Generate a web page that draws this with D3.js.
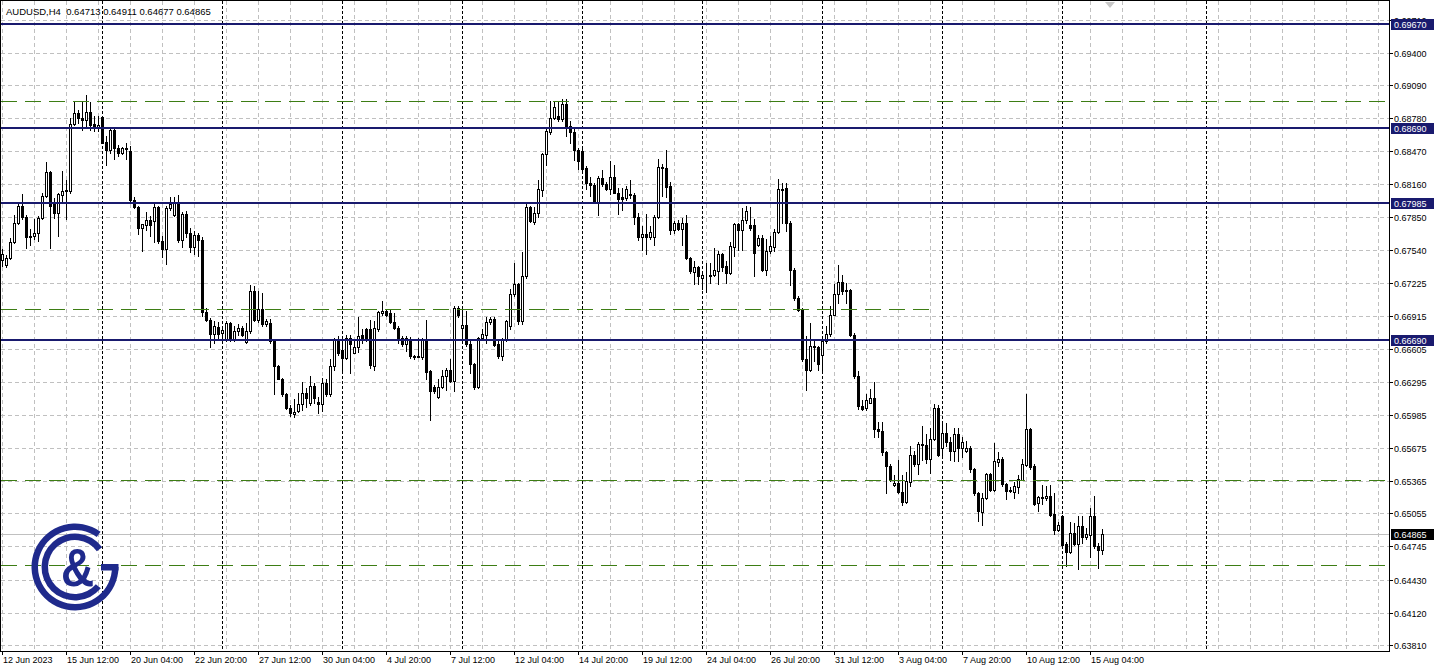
<!DOCTYPE html>
<html><head><meta charset="utf-8">
<script src="https://cdn.jsdelivr.net/npm/d3@7"></script>
<style>
body{margin:0;background:#fff}
svg{display:block}
text{font-family:"Liberation Sans",Arial,sans-serif}
</style>
</head><body>
<svg id="c" width="1436" height="670"></svg>
<script>
// ---------------- data ----------------
const symbol = "AUDUSD,H4";
const firstBarTime = "2023-06-12T20:00:00Z";
// [open, high, low, close] per H4 bar
const ohlc = [
[0.6744,0.6755,0.6739,0.6750],[0.6740,0.6749,0.6738,0.6746],[0.6746,0.6765,0.6745,0.6761],[0.6761,0.6787,0.6760,0.6779],
[0.6779,0.6798,0.6778,0.6795],[0.6795,0.6807,0.6783,0.6785],[0.6785,0.6787,0.6756,0.6766],[0.6767,0.6774,0.6759,0.6766],
[0.6767,0.6783,0.6764,0.6770],[0.6770,0.6786,0.6762,0.6784],[0.6784,0.6808,0.6783,0.6805],[0.6805,0.6837,0.6804,0.6827],
[0.6827,0.6828,0.6756,0.6795],[0.6799,0.6803,0.6784,0.6789],[0.6789,0.6808,0.6767,0.6807],[0.6806,0.6828,0.6798,0.6809],
[0.6809,0.6820,0.6783,0.6810],[0.6809,0.6878,0.6808,0.6873],[0.6873,0.6893,0.6872,0.6883],[0.6883,0.6886,0.6874,0.6878],
[0.6878,0.6893,0.6867,0.6876],[0.6876,0.6900,0.6869,0.6884],[0.6884,0.6893,0.6867,0.6872],[0.6873,0.6880,0.6866,0.6869],
[0.6870,0.6880,0.6866,0.6872],[0.6879,0.6880,0.6855,0.6855],[0.6856,0.6861,0.6834,0.6848],[0.6848,0.6870,0.6845,0.6867],
[0.6867,0.6869,0.6840,0.6850],[0.6850,0.6853,0.6842,0.6845],[0.6845,0.6851,0.6844,0.6850],[0.6850,0.6855,0.6840,0.6849],
[0.6847,0.6852,0.6800,0.6801],[0.6801,0.6804,0.6793,0.6794],[0.6794,0.6795,0.6769,0.6775],[0.6775,0.6778,0.6753,0.6778],
[0.6777,0.6790,0.6773,0.6782],[0.6782,0.6786,0.6767,0.6777],[0.6781,0.6798,0.6761,0.6794],[0.6794,0.6795,0.6760,0.6762],
[0.6762,0.6767,0.6747,0.6755],[0.6755,0.6795,0.6741,0.6793],[0.6793,0.6804,0.6792,0.6797],[0.6787,0.6804,0.6786,0.6799],
[0.6799,0.6806,0.6761,0.6763],[0.6763,0.6790,0.6757,0.6788],[0.6788,0.6791,0.6766,0.6770],[0.6770,0.6775,0.6752,0.6757],
[0.6757,0.6772,0.6750,0.6768],[0.6768,0.6770,0.6748,0.6763],[0.6763,0.6766,0.6692,0.6695],[0.6695,0.6699,0.6687,0.6688],
[0.6688,0.6690,0.6662,0.6675],[0.6675,0.6687,0.6666,0.6682],[0.6681,0.6686,0.6669,0.6675],[0.6676,0.6682,0.6671,0.6678],
[0.6670,0.6687,0.6668,0.6685],[0.6685,0.6686,0.6668,0.6670],[0.6670,0.6682,0.6668,0.6677],[0.6677,0.6684,0.6674,0.6680],
[0.6680,0.6682,0.6673,0.6674],[0.6667,0.6685,0.6666,0.6677],[0.6677,0.6721,0.6676,0.6715],[0.6715,0.6720,0.6687,0.6688],
[0.6688,0.6715,0.6686,0.6698],[0.6698,0.6713,0.6682,0.6684],[0.6684,0.6689,0.6682,0.6687],[0.6685,0.6689,0.6666,0.6668],
[0.6668,0.6669,0.6618,0.6644],[0.6644,0.6645,0.6632,0.6632],[0.6632,0.6633,0.6616,0.6618],[0.6618,0.6619,0.6604,0.6605],
[0.6605,0.6608,0.6597,0.6600],[0.6599,0.6613,0.6596,0.6601],[0.6602,0.6619,0.6601,0.6609],[0.6609,0.6629,0.6603,0.6619],
[0.6619,0.6624,0.6606,0.6614],[0.6610,0.6635,0.6608,0.6626],[0.6626,0.6628,0.6610,0.6614],[0.6611,0.6615,0.6600,0.6609],
[0.6609,0.6633,0.6602,0.6628],[0.6628,0.6632,0.6616,0.6618],[0.6618,0.6651,0.6616,0.6644],[0.6644,0.6671,0.6641,0.6669],
[0.6669,0.6673,0.6655,0.6657],[0.6660,0.6669,0.6638,0.6652],[0.6652,0.6674,0.6651,0.6671],[0.6671,0.6674,0.6638,0.6665],
[0.6657,0.6669,0.6657,0.6662],[0.6662,0.6691,0.6658,0.6673],[0.6674,0.6679,0.6666,0.6671],[0.6679,0.6680,0.6668,0.6669],
[0.6679,0.6688,0.6643,0.6645],[0.6644,0.6687,0.6641,0.6680],[0.6679,0.6696,0.6677,0.6695],[0.6694,0.6706,0.6693,0.6696],
[0.6696,0.6698,0.6692,0.6693],[0.6694,0.6697,0.6685,0.6686],[0.6686,0.6694,0.6679,0.6680],[0.6680,0.6682,0.6666,0.6671],
[0.6671,0.6673,0.6663,0.6665],[0.6665,0.6673,0.6659,0.6671],[0.6670,0.6672,0.6652,0.6654],[0.6654,0.6655,0.6651,0.6653],
[0.6654,0.6671,0.6653,0.6653],[0.6653,0.6671,0.6651,0.6670],[0.6670,0.6688,0.6632,0.6639],[0.6640,0.6641,0.6594,0.6621],
[0.6625,0.6627,0.6619,0.6621],[0.6615,0.6632,0.6614,0.6625],[0.6625,0.6641,0.6624,0.6635],[0.6635,0.6643,0.6622,0.6641],
[0.6641,0.6651,0.6629,0.6630],[0.6630,0.6701,0.6621,0.6699],[0.6699,0.6701,0.6691,0.6693],[0.6680,0.6698,0.6666,0.6683],
[0.6683,0.6696,0.6663,0.6665],[0.6665,0.6669,0.6638,0.6646],[0.6646,0.6647,0.6623,0.6625],[0.6625,0.6672,0.6624,0.6671],
[0.6671,0.6679,0.6669,0.6675],[0.6674,0.6691,0.6666,0.6686],[0.6686,0.6691,0.6684,0.6689],[0.6689,0.6691,0.6663,0.6664],
[0.6665,0.6668,0.6652,0.6654],[0.6654,0.6671,0.6650,0.6669],[0.6669,0.6688,0.6668,0.6687],[0.6682,0.6717,0.6679,0.6712],
[0.6712,0.6742,0.6710,0.6722],[0.6722,0.6723,0.6684,0.6687],[0.6687,0.6752,0.6684,0.6729],[0.6729,0.6797,0.6727,0.6794],
[0.6794,0.6795,0.6780,0.6781],[0.6780,0.6794,0.6778,0.6789],[0.6789,0.6820,0.6785,0.6811],[0.6810,0.6845,0.6805,0.6844],
[0.6844,0.6869,0.6834,0.6866],[0.6865,0.6894,0.6863,0.6878],[0.6878,0.6894,0.6877,0.6889],[0.6880,0.6894,0.6875,0.6877],
[0.6877,0.6896,0.6875,0.6891],[0.6891,0.6896,0.6861,0.6871],[0.6871,0.6875,0.6855,0.6865],[0.6865,0.6868,0.6839,0.6848],
[0.6848,0.6850,0.6830,0.6838],[0.6847,0.6849,0.6828,0.6830],[0.6831,0.6833,0.6811,0.6817],[0.6817,0.6823,0.6805,0.6815],
[0.6815,0.6817,0.6798,0.6799],[0.6799,0.6824,0.6787,0.6822],[0.6822,0.6829,0.6814,0.6816],[0.6816,0.6818,0.6810,0.6811],
[0.6811,0.6838,0.6807,0.6823],[0.6823,0.6834,0.6808,0.6808],[0.6808,0.6812,0.6788,0.6802],[0.6804,0.6812,0.6792,0.6802],
[0.6803,0.6814,0.6801,0.6811],[0.6807,0.6820,0.6803,0.6806],[0.6806,0.6808,0.6778,0.6785],[0.6785,0.6789,0.6763,0.6766],
[0.6766,0.6776,0.6754,0.6769],[0.6769,0.6788,0.6750,0.6766],[0.6766,0.6776,0.6764,0.6771],[0.6766,0.6787,0.6759,0.6785],
[0.6785,0.6840,0.6784,0.6832],[0.6832,0.6835,0.6805,0.6831],[0.6831,0.6848,0.6804,0.6813],[0.6814,0.6818,0.6769,0.6773],
[0.6773,0.6781,0.6770,0.6779],[0.6779,0.6782,0.6773,0.6774],[0.6774,0.6784,0.6759,0.6779],[0.6779,0.6787,0.6745,0.6746],
[0.6746,0.6747,0.6732,0.6734],[0.6733,0.6743,0.6722,0.6738],[0.6738,0.6739,0.6722,0.6729],[0.6727,0.6734,0.6717,0.6730],
[0.6730,0.6742,0.6714,0.6730],[0.6730,0.6742,0.6723,0.6729],[0.6730,0.6756,0.6729,0.6735],[0.6734,0.6753,0.6722,0.6750],
[0.6750,0.6751,0.6734,0.6738],[0.6739,0.6743,0.6723,0.6732],[0.6732,0.6761,0.6731,0.6758],[0.6757,0.6779,0.6748,0.6778],
[0.6778,0.6779,0.6754,0.6773],[0.6773,0.6793,0.6754,0.6782],[0.6782,0.6795,0.6779,0.6791],[0.6777,0.6794,0.6773,0.6775],
[0.6777,0.6783,0.6729,0.6751],[0.6759,0.6768,0.6758,0.6765],[0.6765,0.6768,0.6734,0.6735],[0.6735,0.6764,0.6730,0.6753],
[0.6753,0.6767,0.6751,0.6758],[0.6757,0.6774,0.6753,0.6771],[0.6771,0.6821,0.6770,0.6811],[0.6811,0.6817,0.6779,0.6810],
[0.6812,0.6817,0.6772,0.6779],[0.6779,0.6781,0.6721,0.6735],[0.6735,0.6737,0.6707,0.6709],[0.6709,0.6710,0.6696,0.6697],
[0.6697,0.6699,0.6649,0.6651],[0.6651,0.6673,0.6622,0.6641],[0.6641,0.6685,0.6640,0.6663],[0.6663,0.6670,0.6649,0.6662],
[0.6662,0.6663,0.6641,0.6646],[0.6655,0.6669,0.6640,0.6668],[0.6668,0.6682,0.6666,0.6675],[0.6675,0.6701,0.6673,0.6693],
[0.6693,0.6722,0.6693,0.6712],[0.6712,0.6740,0.6704,0.6724],[0.6724,0.6730,0.6712,0.6715],[0.6715,0.6723,0.6704,0.6716],
[0.6716,0.6717,0.6673,0.6674],[0.6674,0.6676,0.6633,0.6635],[0.6635,0.6640,0.6604,0.6607],[0.6607,0.6612,0.6603,0.6604],
[0.6605,0.6618,0.6603,0.6612],[0.6610,0.6623,0.6610,0.6614],[0.6614,0.6629,0.6578,0.6585],[0.6585,0.6592,0.6578,0.6583],
[0.6583,0.6592,0.6561,0.6563],[0.6563,0.6564,0.6525,0.6550],[0.6550,0.6552,0.6536,0.6537],[0.6532,0.6542,0.6531,0.6534],
[0.6534,0.6556,0.6525,0.6526],[0.6526,0.6542,0.6513,0.6516],[0.6516,0.6545,0.6515,0.6536],[0.6535,0.6569,0.6531,0.6561],
[0.6561,0.6564,0.6550,0.6552],[0.6552,0.6573,0.6543,0.6571],[0.6571,0.6588,0.6556,0.6570],[0.6570,0.6580,0.6553,0.6557],
[0.6557,0.6586,0.6544,0.6576],[0.6576,0.6609,0.6575,0.6605],[0.6605,0.6608,0.6560,0.6561],[0.6567,0.6592,0.6559,0.6581],
[0.6581,0.6591,0.6569,0.6573],[0.6573,0.6578,0.6556,0.6564],[0.6564,0.6586,0.6555,0.6580],[0.6580,0.6586,0.6555,0.6567],
[0.6567,0.6578,0.6559,0.6573],[0.6564,0.6574,0.6563,0.6567],[0.6567,0.6569,0.6545,0.6547],[0.6547,0.6548,0.6523,0.6525],
[0.6525,0.6526,0.6498,0.6508],[0.6507,0.6525,0.6495,0.6520],[0.6520,0.6544,0.6519,0.6543],[0.6543,0.6544,0.6527,0.6528],
[0.6528,0.6572,0.6527,0.6555],[0.6554,0.6563,0.6550,0.6557],[0.6557,0.6559,0.6531,0.6533],[0.6533,0.6534,0.6519,0.6527],
[0.6527,0.6530,0.6526,0.6528],[0.6526,0.6535,0.6520,0.6531],[0.6530,0.6542,0.6525,0.6538],[0.6537,0.6557,0.6537,0.6552],
[0.6551,0.6618,0.6550,0.6585],[0.6585,0.6586,0.6547,0.6549],[0.6550,0.6552,0.6513,0.6514],[0.6515,0.6522,0.6508,0.6521],
[0.6521,0.6532,0.6514,0.6520],[0.6520,0.6531,0.6518,0.6522],[0.6522,0.6532,0.6503,0.6504],[0.6505,0.6525,0.6486,0.6490],
[0.6490,0.6497,0.6489,0.6495],[0.6503,0.6504,0.6475,0.6476],[0.6477,0.6479,0.6456,0.6469],[0.6469,0.6497,0.6468,0.6487],
[0.6487,0.6496,0.6476,0.6477],[0.6477,0.6503,0.6453,0.6494],[0.6494,0.6503,0.6478,0.6483],[0.6483,0.6492,0.6481,0.6486],
[0.6485,0.6511,0.6464,0.6503],[0.6503,0.6522,0.6473,0.6475],[0.6475,0.6478,0.6454,0.6471],[0.64713,0.64911,0.64677,0.64865]
];
const priceTicks = [0.69710,0.69400,0.69090,0.68780,0.68470,0.68160,0.67850,0.67540,0.67225,0.66915,
                    0.66605,0.66295,0.65985,0.65675,0.65365,0.65055,0.64745,0.64430,0.64120,0.63810];
const levelLines = [0.69670, 0.68690, 0.67985, 0.66690];          // solid navy, labelled
const dashedLines = [0.68940, 0.65370, 0.64569];                  // green dashed, full width
const shortDashed = {value: 0.66979, until: "2023-08-04T12:00:00Z"}; // green dashed, ends
const priceDomain = [0.63758, 0.69895];
const futureBars = 75;       // empty slots right of the last bar
const futureSepBars = 30;    // separators drawn only this far into the future

// ---------------- layout ----------------
const svg = d3.select("#c");
const plotR = 1389, plotB = 651;
const navy = "#191a6e", green = "#3d7d14", grid = "#c0c0c0", logoC = "#1f2a8c";
const FS = "9px";

// bar times: historical bars skip weekends, future slots step by calendar time
const times = [];
let t = new Date(firstBarTime);
for (let i = 0; i < ohlc.length; i++) {
  times.push(t);
  do { t = d3.utcHour.offset(t, 4); } while (t.getUTCDay() === 0 || t.getUTCDay() === 6);
}
let ft = times[times.length - 1];
for (let i = 0; i < futureBars; i++) { ft = d3.utcHour.offset(ft, 4); times.push(ft); }

const x = d3.scaleLinear().domain([0, 1]).range([2, 6]);
const y = d3.scaleLinear().domain(priceDomain).range([plotB, 0]);
const X = i => Math.round(x(i));
const Y = v => Math.round(y(v));

const gGrid = svg.append("g").attr("shape-rendering", "crispEdges");
// horizontal grid
gGrid.selectAll("line.h").data(priceTicks).join("line")
  .attr("x1", 1).attr("x2", plotR).attr("y1", d => Y(d) + 0.5).attr("y2", d => Y(d) + 0.5)
  .attr("stroke", grid).attr("stroke-dasharray", "4,3");
// vertical grid every 8 bars
const vIdx = d3.range(0, times.length, 8).filter(i => x(i) < plotR - 2);
gGrid.selectAll("line.v").data(vIdx).join("line")
  .attr("x1", d => X(d) + 0.5).attr("x2", d => X(d) + 0.5).attr("y1", 1).attr("y2", plotB)
  .attr("stroke", grid).attr("stroke-dasharray", "4,3");

// week separators
const sepIdx = d3.range(1, Math.min(times.length, ohlc.length + futureSepBars)).filter(i =>
  +d3.utcWeek.floor(times[i]) !== +d3.utcWeek.floor(times[i - 1]) && x(i) < plotR - 2);
gGrid.selectAll("line.s").data(sepIdx).join("line")
  .attr("x1", d => X(d) + 0.5).attr("x2", d => X(d) + 0.5).attr("y1", 1).attr("y2", plotB)
  .attr("stroke", "#000").attr("stroke-dasharray", "3,2");

// current price line
const last = ohlc[ohlc.length - 1][3];
gGrid.append("line").attr("x1", 1).attr("x2", plotR).attr("y1", Y(last) + 0.5).attr("y2", Y(last) + 0.5)
  .attr("stroke", "#c0c0c0");

// candles
const gC = svg.append("g").attr("shape-rendering", "crispEdges");
gC.selectAll("line.w").data(ohlc).join("line")
  .attr("x1", (d, i) => X(i) + 0.5).attr("x2", (d, i) => X(i) + 0.5)
  .attr("y1", d => Y(d[1])).attr("y2", d => Y(d[2]) + 1)
  .attr("stroke", "#000");
gC.selectAll("rect").data(ohlc).join("rect")
  .attr("x", (d, i) => X(i) - 1 + 0.5)
  .attr("y", d => Math.min(Y(d[0]), Y(d[3])) + 0.5)
  .attr("width", 2)
  .attr("height", d => Math.abs(Y(d[0]) - Y(d[3])))
  .attr("fill", d => d[3] >= d[0] ? "#fff" : "#000")
  .attr("stroke", "#000");

// level lines
const gL = svg.append("g").attr("shape-rendering", "crispEdges");
gL.selectAll("line.d").data(dashedLines).join("line")
  .attr("x1", 1).attr("x2", plotR).attr("y1", d => Y(d) + 0.5).attr("y2", d => Y(d) + 0.5)
  .attr("stroke", green).attr("stroke-dasharray", "16,8");
const endIdx = times.findIndex(tt => +tt === +new Date(shortDashed.until));
gL.append("line").attr("x1", 1).attr("x2", X(endIdx))
  .attr("y1", Y(shortDashed.value) + 0.5).attr("y2", Y(shortDashed.value) + 0.5)
  .attr("stroke", green).attr("stroke-dasharray", "16,8");
gL.selectAll("line.n").data(levelLines).join("line")
  .attr("x1", 1).attr("x2", plotR).attr("y1", d => Y(d)).attr("y2", d => Y(d))
  .attr("stroke", navy).attr("stroke-width", 2);

// frame
svg.append("rect").attr("x", 0.5).attr("y", 0.5).attr("width", plotR).attr("height", plotB)
  .attr("fill", "none").attr("stroke", "#000").attr("shape-rendering", "crispEdges");

// price axis
const gA = svg.append("g");
gA.selectAll("line").data(priceTicks).join("line")
  .attr("x1", plotR).attr("x2", plotR + 4).attr("y1", d => Y(d) + 0.5).attr("y2", d => Y(d) + 0.5)
  .attr("stroke", "#000").attr("shape-rendering", "crispEdges");
gA.selectAll("text").data(priceTicks).join("text")
  .attr("x", plotR + 5).attr("y", d => Y(d) + 3.5)
  .attr("font-size", FS).attr("fill", "#000").text(d => d.toFixed(5));

// labelled boxes on the price axis
const boxes = levelLines.map(v => ({v, bg: navy})).concat([{v: last, bg: "#000"}]);
const gB = svg.append("g");
gB.selectAll("rect").data(boxes).join("rect")
  .attr("x", plotR + 2).attr("y", d => Y(d.v) - 5).attr("width", 43).attr("height", 11)
  .attr("fill", d => d.bg);
gB.selectAll("text").data(boxes).join("text")
  .attr("x", plotR + 5).attr("y", d => Y(d.v) + 4)
  .attr("font-size", FS).attr("fill", "#fff").text(d => d.v.toFixed(5));

// time axis
const labIdx = d3.range(0, ohlc.length, 16);
const fFirst = d3.utcFormat("%-d %b %Y"), fRest = d3.utcFormat("%-d %b %H:%M");
const gT = svg.append("g");
gT.selectAll("line").data(labIdx).join("line")
  .attr("x1", d => X(d) + 0.5).attr("x2", d => X(d) + 0.5).attr("y1", plotB).attr("y2", plotB + 4)
  .attr("stroke", "#000").attr("shape-rendering", "crispEdges");
gT.selectAll("text").data(labIdx).join("text")
  .attr("x", d => X(d) + 1).attr("y", plotB + 12)
  .attr("font-size", FS).attr("fill", "#000")
  .text((d, k) => k === 0 ? fFirst(times[d]) : fRest(times[d]));

// header
const o = ohlc[ohlc.length - 1];
svg.append("text").attr("x", 6).attr("y", 15).attr("font-size", "9.5px").attr("fill", "#000")
  .attr("xml:space", "preserve")
  .text(`${symbol}  ${o.map(v => v.toFixed(5)).join(" ")}`);

// chart shift marker
svg.append("path").attr("d", "M1105,2 L1115,2 L1110,8 Z").attr("fill", "#c8c8c8");

// logo
const lg = svg.append("g").attr("transform", "translate(75,567)");
lg.append("path").attr("d", d3.arc()({innerRadius: 37, outerRadius: 43.5, startAngle: Math.PI * 0.5, endAngle: Math.PI * 2.2}))
  .attr("fill", logoC);
lg.append("path").attr("d", d3.arc()({innerRadius: 27, outerRadius: 33.5, startAngle: Math.PI * 0.72, endAngle: Math.PI * 2.3}))
  .attr("fill", logoC);
lg.append("rect").attr("x", 26).attr("y", -3).attr("width", 17.5).attr("height", 6.5).attr("fill", logoC);
lg.append("text").attr("x", 3).attr("y", 19).attr("text-anchor", "middle")
  .attr("font-size", "54px").attr("font-weight", "bold").attr("fill", logoC)
  .attr("transform", "scale(0.85,1)").text("&");
</script>
</body></html>
